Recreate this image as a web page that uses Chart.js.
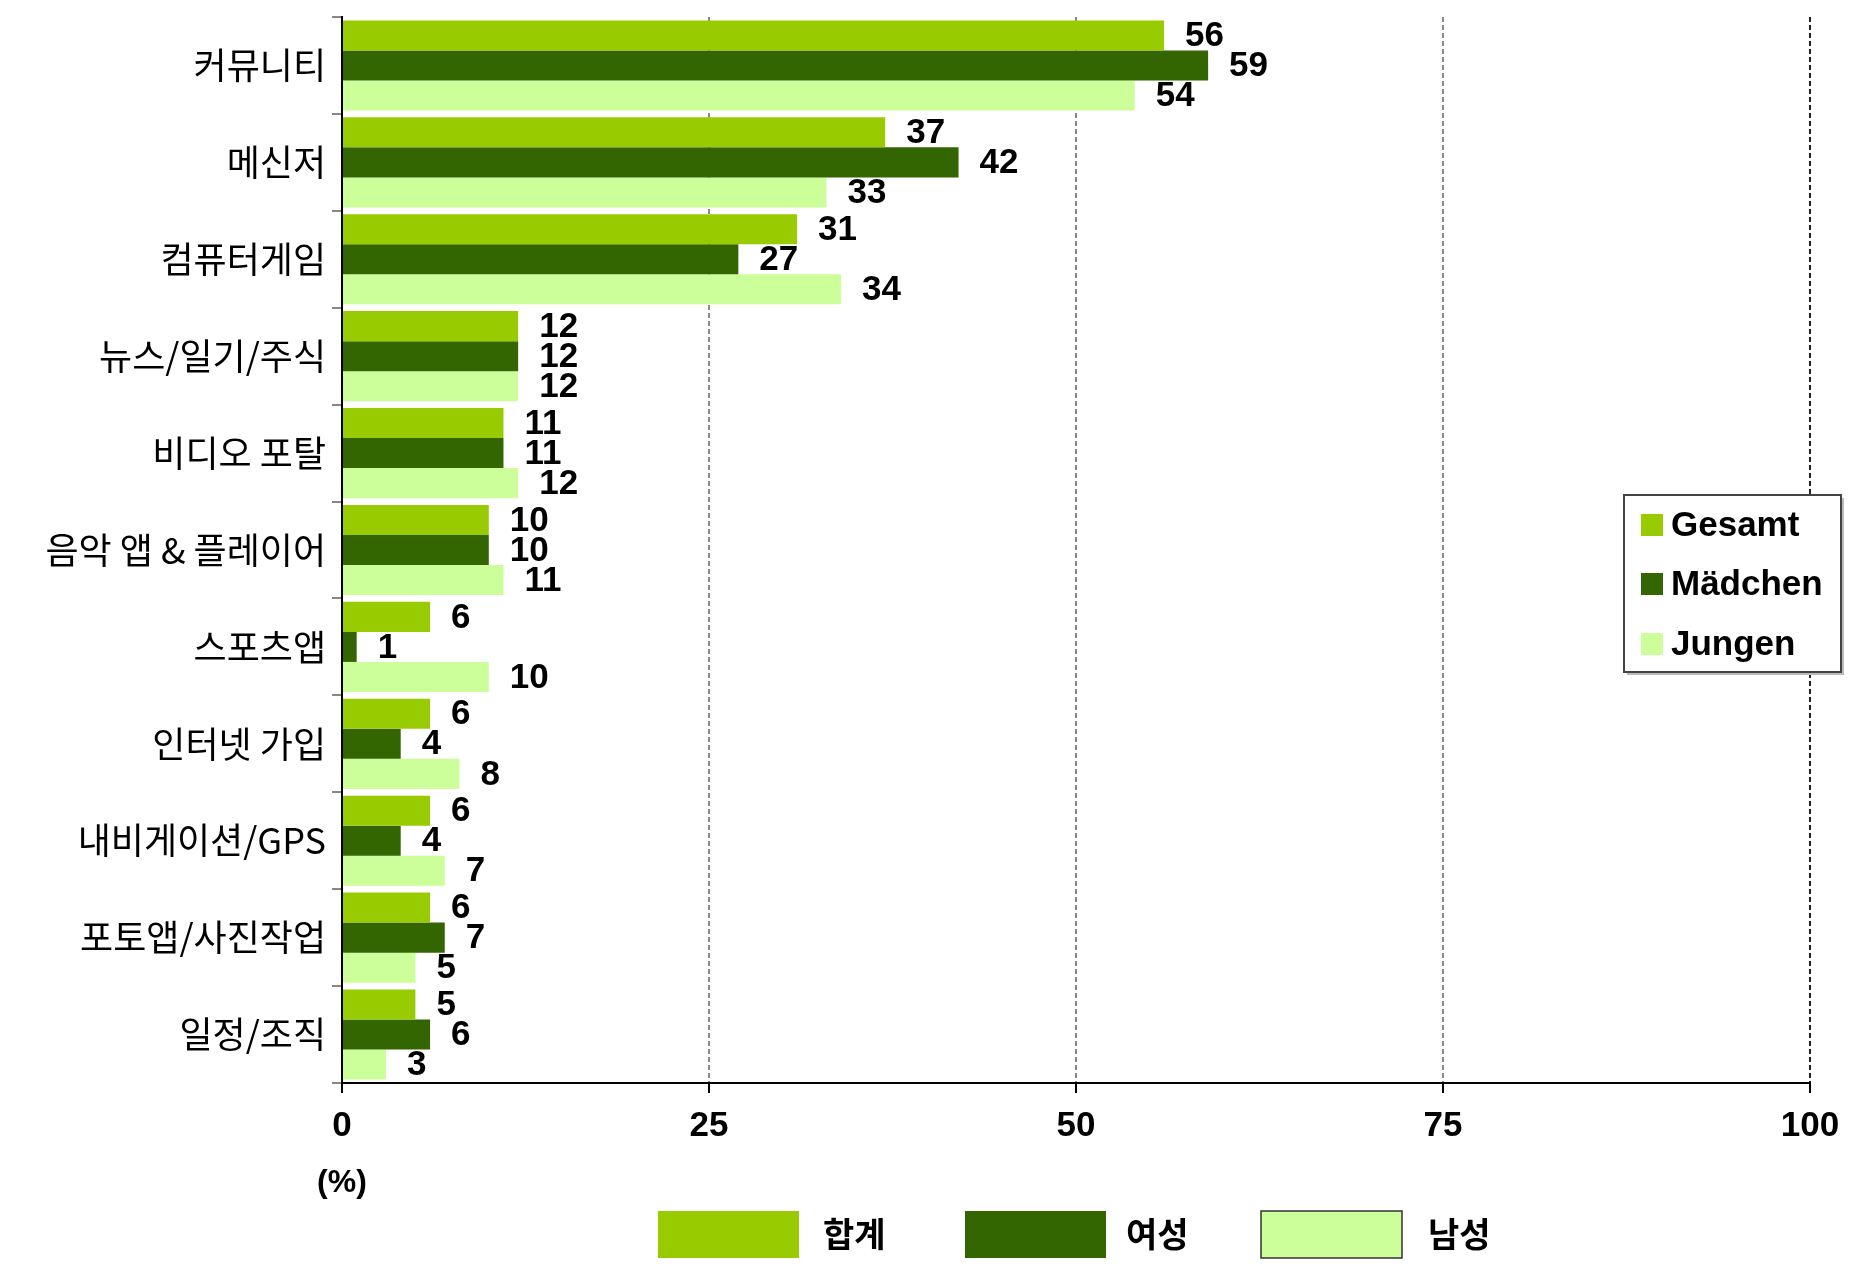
<!DOCTYPE html>
<html><head><meta charset="utf-8">
<script src="https://cdn.jsdelivr.net/npm/chart.js@4.4.1/dist/chart.umd.min.js"></script>
<style>html,body{margin:0;padding:0;background:#fff;}#wrap{width:1866px;height:1266px;position:relative;}</style>
</head><body><div id="wrap"><canvas id="c" width="1866" height="1266"></canvas></div>
<script>
const categories = ["커뮤니티","메신저","컴퓨터게임","뉴스/일기/주식","비디오 포탈","음악 앱 & 플레이어","스포츠앱","인터넷 가입","내비게이션/GPS","포토앱/사진작업","일정/조직"];
const gesamt  = [56,37,31,12,11,10,6,6,6,6,5];
const maedchen= [59,42,27,12,11,10,1,4,4,7,6];
const jungen  = [54,33,34,12,12,11,10,8,7,5,3];
const seriesNamesDe = ["Gesamt","Mädchen","Jungen"];
const seriesNamesKo = ["합계","여성","남성"];
const xTicks = [0,25,50,75,100];
const unitLabel = "(%)";
const colors = ["#99CC00","#336600","#CCFF99"];

const numFont = 'bold 35px "Liberation Sans", Arial, sans-serif';

const labelPlugin = {
  id:'vals',
  afterDatasetsDraw(chart){
    const ctx = chart.ctx;
    ctx.save();
    ctx.font = numFont; ctx.fillStyle = '#000'; ctx.textAlign='left'; ctx.textBaseline='middle';
    chart.data.datasets.forEach((ds,i)=>{
      const meta = chart.getDatasetMeta(i);
      meta.data.forEach((el,j)=>{ ctx.fillText(String(ds.data[j]), el.x + 21, el.y + 1); });
    });
    ctx.restore();
  }
};

const legendPlugin = {
  id:'legends',
  afterDraw(chart){
    const ctx = chart.ctx;
    ctx.save();
    // right boxed legend
    ctx.fillStyle='#bbb'; ctx.fillRect(1627,498,217,177);
    ctx.fillStyle='#fff'; ctx.fillRect(1624,495,217,177);
    ctx.strokeStyle='#444'; ctx.lineWidth=2; ctx.strokeRect(1624,495,217,177);
    const ys=[525,584,644];
    ctx.font = 'bold 35px "Liberation Sans", Arial, sans-serif';
    ctx.textBaseline='middle'; ctx.textAlign='left';
    seriesNamesDe.forEach((n,i)=>{
      ctx.fillStyle=colors[i]; ctx.fillRect(1641,ys[i]-11,22,22);
      ctx.fillStyle='#000'; ctx.fillText(n,1671,ys[i]+1);
    });
    // bottom legend
    const bx=[658,965,1261], tx=[823,1126,1428];
    ctx.font = 'bold 34px "Noto Sans CJK KR", sans-serif';
    seriesNamesKo.forEach((n,i)=>{
      ctx.fillStyle=colors[i]; ctx.fillRect(bx[i],1211,141,47);
      if(i===2){ctx.strokeStyle='#333';ctx.lineWidth=1.5;ctx.strokeRect(bx[i],1211,141,47);}
      ctx.fillStyle='#000'; ctx.fillText(n,tx[i],1234);
    });
    // unit
    ctx.font = 'bold 32px "Liberation Sans", Arial, sans-serif';
    ctx.textAlign='center';
    ctx.fillText(unitLabel, chart.scales.x.getPixelForValue(0), 1183);
    ctx.restore();
  }
};

new Chart(document.getElementById('c'),{
  type:'bar',
  data:{
    labels:categories,
    datasets:[
      {label:seriesNamesDe[0],data:gesamt,backgroundColor:colors[0]},
      {label:seriesNamesDe[1],data:maedchen,backgroundColor:colors[1]},
      {label:seriesNamesDe[2],data:jungen,backgroundColor:colors[2]}
    ]
  },
  options:{
    indexAxis:'y',
    responsive:false,
    animation:false,
    devicePixelRatio:1,
    layout:{padding:{left:0,top:17,right:56,bottom:0}},
    datasets:{bar:{categoryPercentage:0.93,barPercentage:1.0}},
    plugins:{legend:{display:false},tooltip:{enabled:false}},
    scales:{
      x:{
        min:0,max:100,
        afterBuildTicks(s){ s.ticks = xTicks.map(v=>({value:v})); },
        afterFit(s){ s.height = 183; s.paddingLeft = 0; s.paddingRight = 0; },
        grid:{
          color:(c)=> c.tick && c.tick.value===0 ? 'rgba(0,0,0,0)' : (c.tick && c.tick.value===100 ? '#222' : '#888'),
          lineWidth:2, tickLength:10, tickColor:'#000', tickWidth:2
        },
        border:{color:'#000',width:2,dash:[5,3]},
        ticks:{font:{family:'"Liberation Sans", Arial, sans-serif',size:35,weight:'bold'},color:'#000',padding:12,maxRotation:0}
      },
      y:{
        afterFit(s){ s.width = 342; s.paddingTop = 0; s.paddingBottom = 0; },
        grid:{drawOnChartArea:false,tickLength:10,color:'#888',lineWidth:2},
        border:{color:'#000',width:2},
        ticks:{font:{family:'"Noto Sans CJK KR", sans-serif',size:36},color:'#000',padding:6}
      }
    }
  },
  plugins:[labelPlugin,legendPlugin]
});
</script></body></html>
